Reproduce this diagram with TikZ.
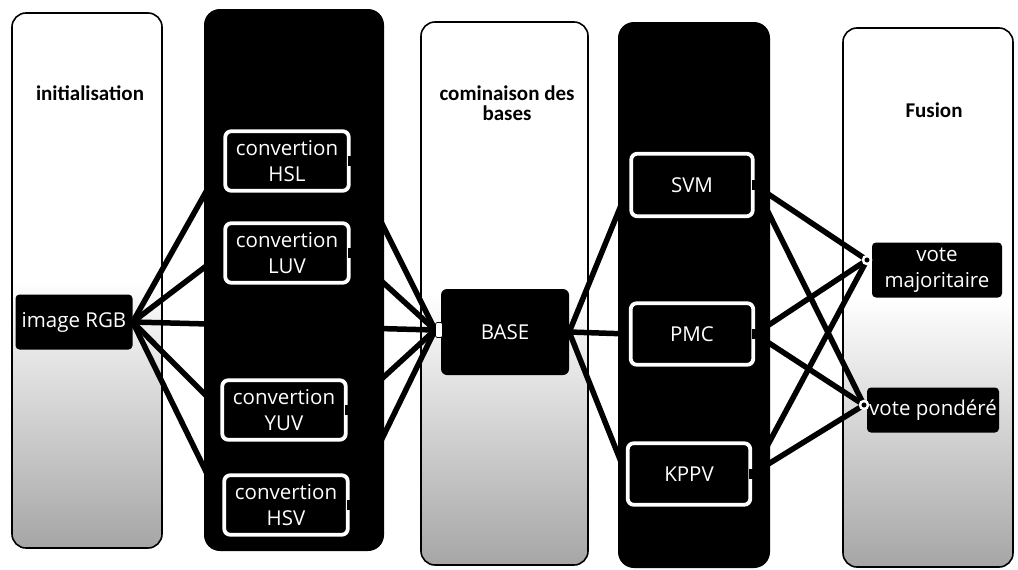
\documentclass[tikz,border=0pt]{standalone}
\usepackage{fontspec}
\setmainfont{Open Sans}
\newfontfamily\ttlfont{Carlito}
\pgfdeclarelayer{colw}
\pgfdeclarelayer{edges}
\pgfdeclarelayer{colb}
\pgfsetlayers{colw,edges,colb,main}
\tikzset{
  wcol/.style={draw=black, line width=1.6pt, rounded corners=14pt,
    top color=white, bottom color=black!35, middle color=white, inner sep=0pt},
  bcol/.style={fill=black, rounded corners=16pt, inner sep=0pt},
  wbox/.style={draw=white, line width=3.8pt, fill=black, rounded corners=6pt,
    text=white, align=center, inner sep=0pt, font=\fontsize{20.5}{26}\selectfont},
  bbox/.style={fill=black, rounded corners=4pt, text=white, align=center,
    inner sep=0pt, font=\fontsize{20.5}{26}\selectfont},
  ttl/.style={align=center, text=black, inner sep=0pt,
    font=\ttlfont\bfseries\fontsize{21}{20}\selectfont},
  notch/.style={fill=black, minimum width=6pt, minimum height=10pt, inner sep=0pt},
  portw/.style={draw=black, fill=white, line width=0.8pt, rounded corners=2pt,
    minimum width=7pt, minimum height=15pt, inner sep=0pt},
  portc/.style={circle, draw=white, fill=black, line width=2.5pt,
    minimum size=8pt, inner sep=0pt},
  link/.style={line width=5.5pt, black},
}
\begin{document}
\begin{tikzpicture}[x=1pt,y=-1pt]
\useasboundingbox (0,0) rectangle (1018,570);

% columns
\begin{pgfonlayer}{colw}
\node[wcol, minimum width=150pt, minimum height=535pt] (col1) at (87,280.5) {};
\node[wcol, minimum width=167pt, minimum height=543pt] (col3) at (504.5,293.5) {};
\node[wcol, minimum width=170pt, minimum height=539pt] (col5) at (928,297.5) {};
\end{pgfonlayer}
\begin{pgfonlayer}{colb}
\node[bcol, minimum width=180pt, minimum height=542pt] (col2) at (294,280) {};
\node[bcol, minimum width=152pt, minimum height=546pt] (col4) at (694,295) {};
\end{pgfonlayer}

% titles
\node[ttl] (t1) at (90,93) {initialisation};
\node[ttl] (t3) at (507,103) {cominaison des\\bases};
\node[ttl] (t5) at (934,110) {Fusion};

% boxes
\node[bbox, minimum width=117pt, minimum height=55pt] (rgb) at (74,322) {image RGB};
\node[wbox, minimum width=123.5pt, minimum height=59.5pt] (hsl) at (287,161) {convertion\\HSL};
\node[wbox, minimum width=123.5pt, minimum height=59.5pt] (luv) at (287,253) {convertion\\LUV};
\node[wbox, minimum width=123.5pt, minimum height=59.5pt] (yuv) at (284,410) {convertion\\YUV};
\node[wbox, minimum width=123.5pt, minimum height=59.5pt] (hsv) at (286,505) {convertion\\HSV};
\node[bbox, rounded corners=6pt, minimum width=128pt, minimum height=86pt] (base) at (505,332) {BASE};
\node[wbox, minimum width=121.5pt, minimum height=62.5pt] (svm) at (692,185) {SVM};
\node[wbox, minimum width=122.5pt, minimum height=61.5pt] (pmc) at (692,334) {PMC};
\node[wbox, minimum width=122.5pt, minimum height=61.5pt] (kppv) at (689,474) {KPPV};
\node[bbox, minimum width=130pt, minimum height=55pt] (maj) at (937,270) {vote\\majoritaire};
\node[bbox, minimum width=132pt, minimum height=45pt] (pond) at (933,410) {vote pondéré};

% notches and ports
\foreach \b in {hsl,luv,yuv,hsv,svm,pmc,kppv}{
  \node[notch] (\b N) at (\b.east) {};
}
\node[portw] (basein) at (439,330) {};
\node[portc] (majin) at (867,260) {};
\node[portc] (pondin) at (864,405) {};

% connectors
\begin{pgfonlayer}{edges}
\foreach \b in {hsl,luv,yuv,hsv}{
  \draw[link] (rgb.east) -- (\b.west);
  \draw[link] (\b.east) -- (basein.west);
}
\draw[link] (rgb.east) -- (basein.west);
\foreach \b in {svm,pmc,kppv}{
  \draw[link] (base.east) -- (\b.west);
  \draw[link] (\b.east) -- (majin.center);
  \draw[link] (\b.east) -- (pondin.center);
}
\end{pgfonlayer}
\end{tikzpicture}
\end{document}
